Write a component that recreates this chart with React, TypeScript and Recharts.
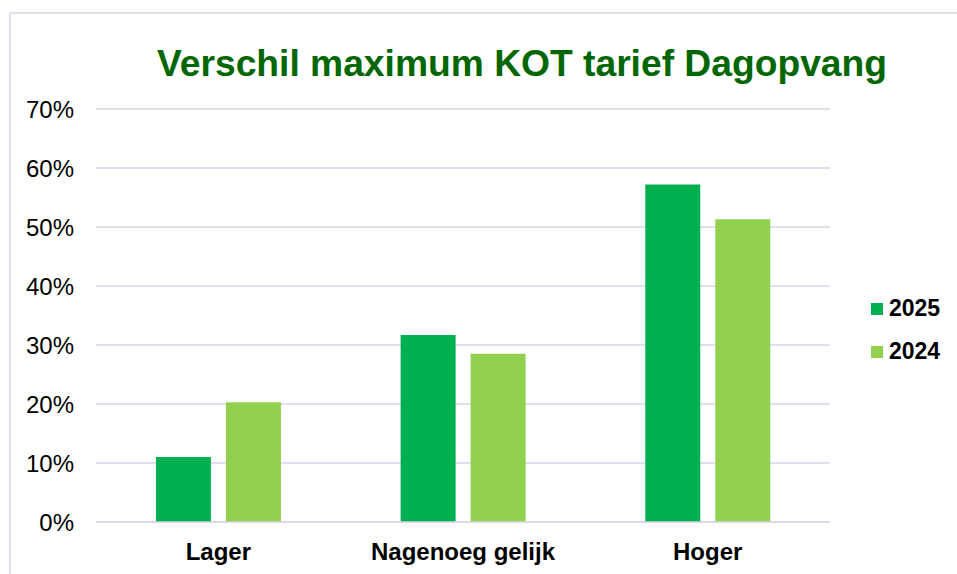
import React from "react";
import { BarChart, Bar, XAxis, YAxis, CartesianGrid } from "recharts";

const categories = ["Lager", "Nagenoeg gelijk", "Hoger"];
const values2025 = [11.0, 31.7, 57.2];
const values2024 = [20.3, 28.5, 51.3];
const yTicks = [0, 10, 20, 30, 40, 50, 60, 70];
const seriesNames = ["2025", "2024"];
const title = "Verschil maximum KOT tarief Dagopvang";

const COLOR_2025 = "#00B050";
const COLOR_2024 = "#92D050";
const GRID = "#DAD5E9";
const FONT = "'Liberation Sans', Arial, sans-serif";

const data = categories.map((c, i) => ({
  name: c,
  y2025: values2025[i],
  y2024: values2024[i],
}));

const LegendBox = () => (
  <div
    style={{
      position: "absolute",
      left: 871,
      top: 287,
      fontFamily: FONT,
      fontWeight: 700,
      fontSize: 23,
      color: "#000",
    }}
  >
    {[COLOR_2025, COLOR_2024].map((col, i) => (
      <div key={i} style={{ display: "flex", alignItems: "center", height: 43 }}>
        <div style={{ width: 12, height: 12, background: col, marginRight: 6 }} />
        <span>{seriesNames[i]}</span>
      </div>
    ))}
  </div>
);

export default function App() {
  return (
    <div style={{ position: "absolute", left: 0, top: 0, width: 957, height: 574, background: "#fff", overflow: "hidden" }}>
      <svg width={957} height={574} style={{ position: "absolute", left: 0, top: 0 }}>
        <rect x={10} y={13} width={1200} height={1200} fill="none" stroke={GRID} strokeWidth={1.5} />
        <text
          x={522}
          y={76}
          textAnchor="middle"
          fontFamily={FONT}
          fontWeight={700}
          fontSize={37}
          fill="#006600"
          textLength={730}
          lengthAdjust="spacingAndGlyphs"
        >
          {title}
        </text>
      </svg>
      <div style={{ position: "absolute", left: 0, top: 0 }}>
        <BarChart
          width={957}
          height={574}
          data={data}
          margin={{ top: 109, right: 127, bottom: 0, left: 0 }}
          barCategoryGap="24.5%"
          barGap={15}
        >
          <CartesianGrid vertical={false} stroke={GRID} strokeWidth={1.5} />
          <XAxis
            dataKey="name"
            height={52}
            axisLine={{ stroke: GRID, strokeWidth: 1.5 }}
            tickLine={false}
            tickSize={0}
            tickMargin={21}
            tick={{ fontFamily: FONT, fontWeight: 700, fontSize: 24, fill: "#000" }}
            interval={0}
          />
          <YAxis
            width={96}
            domain={[0, 70]}
            ticks={yTicks}
            tickFormatter={(v) => `${v}%`}
            axisLine={false}
            tickLine={false}
            tickSize={0}
            tickMargin={22}
            tick={{ fontFamily: FONT, fontSize: 24, fill: "#000" }}
            interval={0}
          />
          <Bar dataKey="y2025" name="2025" fill={COLOR_2025} isAnimationActive={false} />
          <Bar dataKey="y2024" name="2024" fill={COLOR_2024} isAnimationActive={false} />
        </BarChart>
      </div>
      <LegendBox />
    </div>
  );
}
